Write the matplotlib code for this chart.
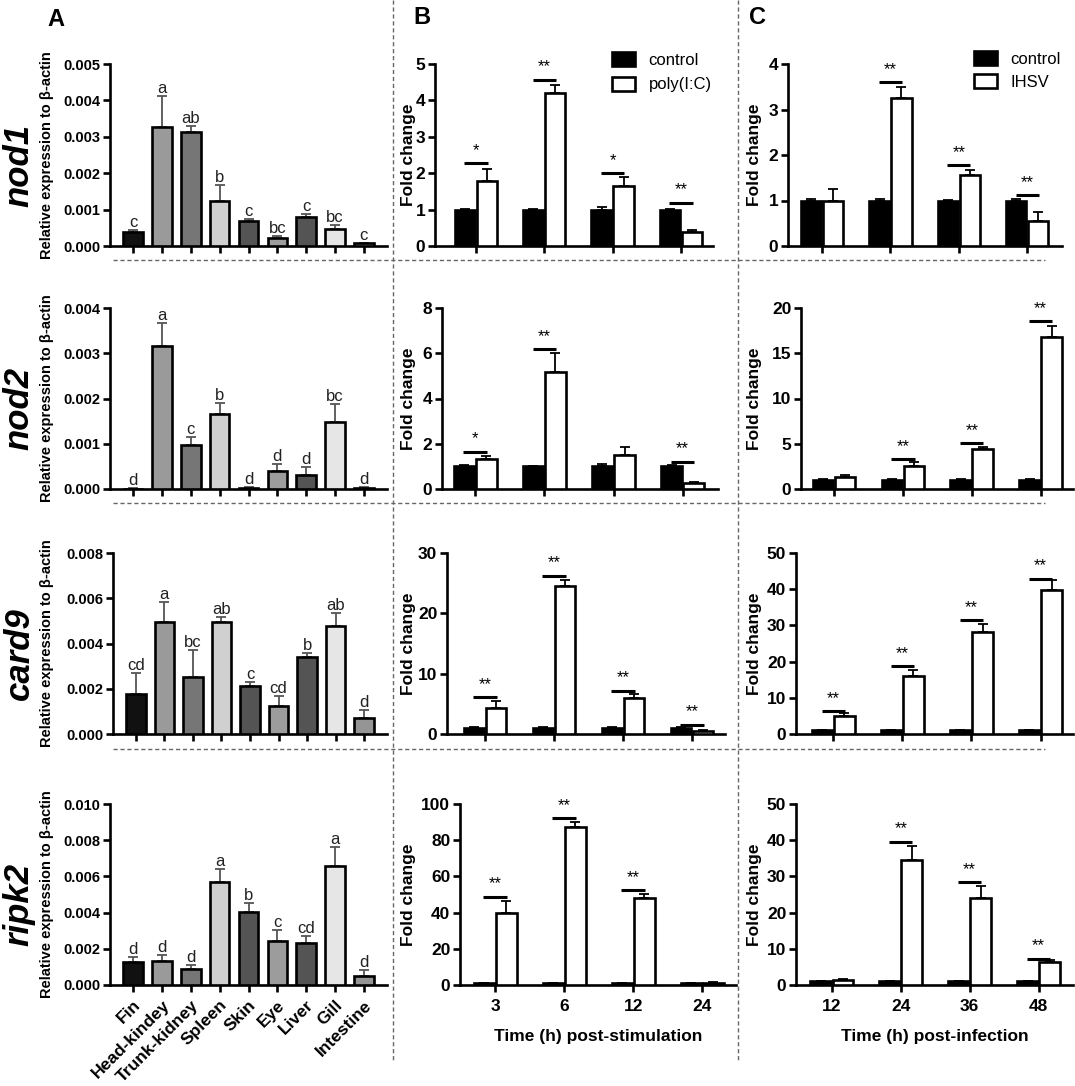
import numpy as np
import matplotlib
matplotlib.use('Agg')
import matplotlib.pyplot as plt
from matplotlib.lines import Line2D

plt.rcParams['font.family'] = ['Liberation Sans', 'DejaVu Sans']

# ---------------- data ----------------
tissues = ['Fin', 'Head-kindey', 'Trunk-kidney', 'Spleen', 'Skin', 'Eye', 'Liver', 'Gill', 'Intestine']
tissue_colors = ['#111111', '#9a9a9a', '#767676', '#d0d0d0', '#545454', '#9c9c9c', '#545454', '#e6e6e6', '#959595']
genes = ['nod1', 'nod2', 'card9', 'ripk2']

nod1_tissue = [0.00038, 0.00328, 0.00314, 0.00125, 0.00070, 0.00021, 0.00081, 0.00046, 0.00007]
nod1_tissue_err = [0.00005, 0.00085, 0.00017, 0.00043, 0.00005, 0.00006, 0.00007, 0.00011, 0.00002]
nod1_letters = ['c', 'a', 'ab', 'b', 'c', 'bc', 'c', 'bc', 'c']

nod2_tissue = [0.00001, 0.00317, 0.00098, 0.00165, 0.00003, 0.00039, 0.00032, 0.00148, 0.00003]
nod2_tissue_err = [0.00001, 0.00050, 0.00016, 0.00024, 0.00001, 0.00016, 0.00016, 0.00039, 0.00001]
nod2_letters = ['d', 'a', 'c', 'b', 'd', 'd', 'd', 'bc', 'd']

card9_tissue = [0.00178, 0.00493, 0.00254, 0.00496, 0.00210, 0.00122, 0.00339, 0.00477, 0.00070]
card9_tissue_err = [0.00091, 0.00091, 0.00117, 0.00019, 0.00018, 0.00044, 0.00017, 0.00059, 0.00034]
card9_letters = ['cd', 'a', 'bc', 'ab', 'c', 'cd', 'b', 'ab', 'd']

ripk2_tissue = [0.00128, 0.00132, 0.00091, 0.00570, 0.00406, 0.00241, 0.00234, 0.00658, 0.00051]
ripk2_tissue_err = [0.00027, 0.00033, 0.00019, 0.00073, 0.00046, 0.00064, 0.00035, 0.00104, 0.00031]
ripk2_letters = ['d', 'd', 'd', 'a', 'b', 'c', 'cd', 'a', 'd']

hours_stim = ['3', '6', '12', '24']
hours_inf = ['12', '24', '36', '48']

# poly(I:C) stimulation (panel B)
nod1_pic_ctrl = [1.0, 1.0, 1.0, 1.0]
nod1_pic_ctrl_err = [0.03, 0.02, 0.08, 0.03]
nod1_pic = [1.79, 4.20, 1.65, 0.39]
nod1_pic_err = [0.32, 0.22, 0.24, 0.04]
nod1_pic_sig = ['*', '**', '*', '**']
nod1_pic_sigy = [2.28, 4.57, 2.00, 1.19]

nod2_pic_ctrl = [1.0, 1.0, 1.0, 1.0]
nod2_pic_ctrl_err = [0.05, 0.03, 0.09, 0.05]
nod2_pic = [1.33, 5.15, 1.50, 0.26]
nod2_pic_err = [0.14, 0.85, 0.37, 0.07]
nod2_pic_sig = ['*', '**', '', '**']
nod2_pic_sigy = [1.65, 6.18, np.nan, 1.20]

card9_pic_ctrl = [1.0, 1.0, 1.0, 1.0]
card9_pic_ctrl_err = [0.10, 0.10, 0.15, 0.10]
card9_pic = [4.30, 24.5, 6.00, 0.44]
card9_pic_err = [1.10, 1.10, 0.60, 0.16]
card9_pic_sig = ['**', '**', '**', '**']
card9_pic_sigy = [6.05, 26.2, 7.20, 1.50]

ripk2_pic_ctrl = [1.0, 1.0, 1.0, 1.0]
ripk2_pic_ctrl_err = [0.2, 0.2, 0.2, 0.2]
ripk2_pic = [39.8, 87.1, 47.9, 1.1]
ripk2_pic_err = [6.4, 3.1, 2.2, 0.6]
ripk2_pic_sig = ['**', '**', '**', '']
ripk2_pic_sigy = [48.8, 92.1, 52.5, np.nan]

# IHSV infection (panel C)
nod1_ihsv_ctrl = [1.0, 1.0, 1.0, 1.0]
nod1_ihsv_ctrl_err = [0.03, 0.03, 0.01, 0.03]
nod1_ihsv = [1.00, 3.25, 1.56, 0.56]
nod1_ihsv_err = [0.26, 0.24, 0.11, 0.19]
nod1_ihsv_sig = ['', '**', '**', '**']
nod1_ihsv_sigy = [np.nan, 3.60, 1.77, 1.11]

nod2_ihsv_ctrl = [1.0, 1.0, 1.0, 1.0]
nod2_ihsv_ctrl_err = [0.05, 0.05, 0.05, 0.05]
nod2_ihsv = [1.29, 2.50, 4.42, 16.76]
nod2_ihsv_err = [0.29, 0.45, 0.18, 1.21]
nod2_ihsv_sig = ['', '**', '**', '**']
nod2_ihsv_sigy = [np.nan, 3.30, 5.05, 18.56]

card9_ihsv_ctrl = [1.0, 1.0, 1.0, 1.0]
card9_ihsv_ctrl_err = [0.2, 0.2, 0.2, 0.2]
card9_ihsv = [4.86, 15.9, 28.3, 39.7]
card9_ihsv_err = [0.94, 1.8, 2.2, 2.8]
card9_ihsv_sig = ['**', '**', '**', '**']
card9_ihsv_sigy = [6.3, 18.7, 31.5, 42.9]

ripk2_ihsv_ctrl = [1.0, 1.0, 1.0, 1.0]
ripk2_ihsv_ctrl_err = [0.15, 0.15, 0.15, 0.15]
ripk2_ihsv = [1.38, 34.6, 23.9, 6.3]
ripk2_ihsv_err = [0.27, 3.9, 3.4, 0.6]
ripk2_ihsv_sig = ['', '**', '**', '**']
ripk2_ihsv_sigy = [np.nan, 39.6, 28.4, 7.3]

tissue_data = [
    (nod1_tissue, nod1_tissue_err, nod1_letters, 0.005, 0.001),
    (nod2_tissue, nod2_tissue_err, nod2_letters, 0.004, 0.001),
    (card9_tissue, card9_tissue_err, card9_letters, 0.008, 0.002),
    (ripk2_tissue, ripk2_tissue_err, ripk2_letters, 0.010, 0.002),
]
pic_data = [
    (nod1_pic_ctrl, nod1_pic_ctrl_err, nod1_pic, nod1_pic_err, nod1_pic_sig, nod1_pic_sigy, 5, 1),
    (nod2_pic_ctrl, nod2_pic_ctrl_err, nod2_pic, nod2_pic_err, nod2_pic_sig, nod2_pic_sigy, 8, 2),
    (card9_pic_ctrl, card9_pic_ctrl_err, card9_pic, card9_pic_err, card9_pic_sig, card9_pic_sigy, 30, 10),
    (ripk2_pic_ctrl, ripk2_pic_ctrl_err, ripk2_pic, ripk2_pic_err, ripk2_pic_sig, ripk2_pic_sigy, 100, 20),
]
ihsv_data = [
    (nod1_ihsv_ctrl, nod1_ihsv_ctrl_err, nod1_ihsv, nod1_ihsv_err, nod1_ihsv_sig, nod1_ihsv_sigy, 4, 1),
    (nod2_ihsv_ctrl, nod2_ihsv_ctrl_err, nod2_ihsv, nod2_ihsv_err, nod2_ihsv_sig, nod2_ihsv_sigy, 20, 5),
    (card9_ihsv_ctrl, card9_ihsv_ctrl_err, card9_ihsv, card9_ihsv_err, card9_ihsv_sig, card9_ihsv_sigy, 50, 10),
    (ripk2_ihsv_ctrl, ripk2_ihsv_ctrl_err, ripk2_ihsv, ripk2_ihsv_err, ripk2_ihsv_sig, ripk2_ihsv_sigy, 50, 10),
]

# ---------------- layout (pixels) ----------------
W, H = 1075, 1086
fig = plt.figure(figsize=(W / 100, H / 100), dpi=100)

rows_tb = [(64, 246), (308, 489), (553, 734), (804, 985)]
A_lr = [(110, 387), (110, 387), (113, 387), (110, 387)]
B_lr = [(435, 713), (442, 718), (447, 725), (460, 736)]
B_xlim = [(-0.6, 3.47), (-0.48, 3.51), (-0.55, 3.48), (-0.51, 3.49)]
C_lr = [(788, 1062), (801, 1073), (796, 1073), (796, 1073)]
C_xlim = [(-0.5, 3.51), (-0.48, 3.47), (-0.54, 3.47), (-0.52, 3.50)]


def box(l, r, t, b):
    return [l / W, 1 - b / H, (r - l) / W, (b - t) / H]


SPINE_LW = 1.9


def style_axes(ax, labelsize):
    for s in ['top', 'right']:
        ax.spines[s].set_visible(False)
    for s in ['left', 'bottom']:
        ax.spines[s].set_linewidth(SPINE_LW)
    ax.tick_params(axis='both', direction='out', length=5, width=SPINE_LW,
                   labelsize=labelsize, pad=2)
    for lab in ax.get_yticklabels():
        lab.set_fontweight('bold')


# ---------------- panel A ----------------
for i, (vals, errs, letters, ymax, ystep) in enumerate(tissue_data):
    t, b = rows_tb[i]
    l, r = A_lr[i]
    ax = fig.add_axes(box(l, r, t, b))
    x = np.arange(len(tissues))
    ax.bar(x, vals, width=0.68, color=tissue_colors, edgecolor='black', linewidth=1.9, zorder=3)
    ax.errorbar(x, vals, yerr=[np.zeros(len(vals)), errs], fmt='none', ecolor='#555555',
                elinewidth=1.3, capsize=3.5, capthick=1.3, zorder=2)
    for xi, v, e, lt in zip(x, vals, errs, letters):
        ax.text(xi, v + e, lt, ha='center', va='bottom', fontsize=12, color='#222222')
    ax.set_xlim(-0.8, 8.8)
    ax.set_ylim(0, ymax)
    ax.set_yticks(np.arange(0, ymax + ystep / 2, ystep))
    ax.set_yticklabels(['%.3f' % v for v in np.arange(0, ymax + ystep / 2, ystep)])
    ax.set_xticks(x)
    style_axes(ax, 10.5)
    ax.set_ylabel('Relative expression to β-actin', fontsize=10.5, fontweight='bold')
    ax.yaxis.set_label_coords(47 / W, 1 - (t + b) / 2 / H, transform=fig.transFigure)
    ax.yaxis.label.set_va('center')
    if i == 3:
        ax.set_xticklabels(tissues, rotation=45, ha='right', rotation_mode='anchor',
                           fontsize=12.5, fontweight='bold')
        ax.tick_params(axis='x', pad=4)
    else:
        ax.set_xticklabels([])
    fig.text(19 / W, 1 - ((t + b) / 2 + 10) / H, genes[i], rotation=90, ha='center', va='center',
             fontsize=25, fontweight='bold', fontstyle='italic')


# ---------------- panels B and C ----------------
def fold_panel(ax, data, xlim, hours, xlabel, legend_label, last):
    ctrl, ctrl_err, trt, trt_err, sig, sigy, ymax, ystep = data
    x = np.arange(4)
    w = 0.30
    ax.bar(x - 0.16, ctrl, width=w, color='black', edgecolor='black', linewidth=1.9, zorder=3,
           label='control')
    ax.bar(x + 0.16, trt, width=w, color='white', edgecolor='black', linewidth=1.9, zorder=3,
           label=legend_label)
    ax.errorbar(x - 0.16, ctrl, yerr=[np.zeros(4), ctrl_err], fmt='none', ecolor='black',
                elinewidth=1.3, capsize=3.5, capthick=1.3, zorder=2)
    ax.errorbar(x + 0.16, trt, yerr=[np.zeros(4), trt_err], fmt='none', ecolor='black',
                elinewidth=1.3, capsize=3.5, capthick=1.3, zorder=2)
    for xi, s, sy in zip(x, sig, sigy):
        if s and not np.isnan(sy):
            ax.plot([xi - 0.17, xi + 0.17], [sy, sy], color='black', lw=2.2, solid_capstyle='butt',
                    zorder=4)
            ax.annotate(s, (xi, sy), xytext=(0, 6), textcoords='offset points', ha='center',
                        va='baseline', fontsize=12)
    ax.set_xlim(*xlim)
    ax.set_ylim(0, ymax)
    ax.set_yticks(np.arange(0, ymax + ystep / 2, ystep))
    ax.set_xticks(x)
    style_axes(ax, 12.5)
    if last:
        ax.set_xticklabels(hours, fontsize=12.5, fontweight='bold')
        ax.tick_params(axis='x', pad=5)
        ax.set_xlabel(xlabel, fontsize=12.5, fontweight='bold', labelpad=11)
    else:
        ax.set_xticklabels([])


for i in range(4):
    t, b = rows_tb[i]
    l, r = B_lr[i]
    axb = fig.add_axes(box(l, r, t, b))
    fold_panel(axb, pic_data[i], B_xlim[i], hours_stim, 'Time (h) post-stimulation', 'poly(I:C)', i == 3)
    fig.text(408 / W, 1 - (t + b) / 2 / H, 'Fold change', rotation=90, ha='center', va='center',
             fontsize=12.5, fontweight='bold')
    if i == 0:
        axb.legend(loc='upper left', bbox_to_anchor=(612 / W, 1 - 52 / H),
                   bbox_transform=fig.transFigure, frameon=False, fontsize=12,
                   handlelength=1.4, handleheight=0.9, handletextpad=0.8, labelspacing=0.55,
                   borderpad=0, borderaxespad=0)

    l, r = C_lr[i]
    axc = fig.add_axes(box(l, r, t, b))
    fold_panel(axc, ihsv_data[i], C_xlim[i], hours_inf, 'Time (h) post-infection', 'IHSV', i == 3)
    fig.text(755 / W, 1 - (t + b) / 2 / H, 'Fold change', rotation=90, ha='center', va='center',
             fontsize=12.5, fontweight='bold')
    if i == 0:
        axc.legend(loc='upper left', bbox_to_anchor=(974 / W, 1 - 51 / H),
                   bbox_transform=fig.transFigure, frameon=False, fontsize=12,
                   handlelength=1.4, handleheight=0.9, handletextpad=0.8, labelspacing=0.45,
                   borderpad=0, borderaxespad=0)

# panel letters
for lt, px, py in [('A', 56, 20), ('B', 422, 18), ('C', 758, 18)]:
    fig.text(px / W, 1 - py / H, lt, ha='center', va='center', fontsize=17, fontweight='bold')

# dashed separators
for yy in [260, 503, 749]:
    fig.add_artist(Line2D([113 / W, 1045 / W], [1 - yy / H, 1 - yy / H], transform=fig.transFigure,
                          color='#666666', lw=1.0, linestyle=(0, (3, 2))))
for xx in [393, 738]:
    fig.add_artist(Line2D([xx / W, xx / W], [1, 1 - 1060 / H], transform=fig.transFigure,
                          color='#666666', lw=1.0, linestyle=(0, (3, 2))))

fig.savefig('out.png', dpi=100, facecolor='white')
